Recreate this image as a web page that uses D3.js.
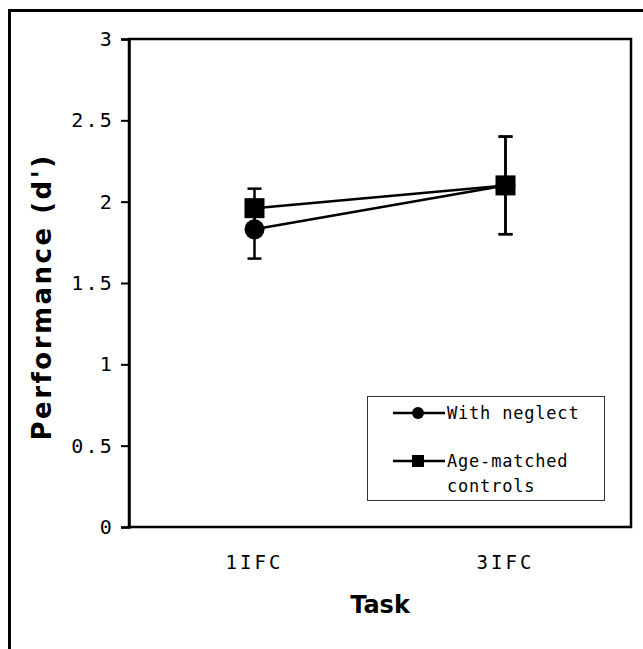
<!DOCTYPE html>
<html>
<head>
<meta charset="utf-8">
<script src="https://cdn.jsdelivr.net/npm/d3@7"></script>
<style>
  body { margin: 0; background: #fff; }
  svg { display: block; }
</style>
</head>
<body>
<div id="chart"></div>
<script>
const tasks = ["1IFC", "3IFC"];
const seriesNames = ["With neglect", "Age-matched controls"];
const neglectMean = [1.83, 2.10];
const neglectErr = [0.18, 0.30];
const controlMean = [1.96, 2.10];
const controlErr = [0.12, 0.30];
const yTicks = [0, 0.5, 1, 1.5, 2, 2.5, 3];

function drawChart() {
    const width = 643;
    const height = 649;

    const svg = d3.select("#chart")
        .append("svg")
        .attr("width", width)
        .attr("height", height);

    // outer frame (runs off the right and bottom of the picture)
    svg.append("rect")
        .attr("x", 9.5).attr("y", 10.5)
        .attr("width", 700).attr("height", 700)
        .attr("fill", "none")
        .attr("stroke", "black")
        .attr("stroke-width", 3);

    const left = 129, right = 631, top = 39, bottom = 527;

    const x = d3.scalePoint().domain(tasks).range([left, right]).padding(0.5);
    const y = d3.scaleLinear().domain([0, 3]).range([bottom, top]);

    // plot box
    svg.append("rect")
        .attr("x", left).attr("y", top)
        .attr("width", right - left).attr("height", bottom - top)
        .attr("fill", "none")
        .attr("stroke", "black")
        .attr("stroke-width", 2.5);

    const yAxis = svg.append("g")
        .attr("transform", `translate(${left},0)`)
        .call(d3.axisLeft(y).tickValues(yTicks).tickSize(8).tickPadding(7)
            .tickFormat(d => String(d)));
    yAxis.select(".domain").attr("stroke-width", 2.5);
    yAxis.selectAll(".tick line").attr("stroke-width", 2);
    yAxis.selectAll("text")
        .attr("font-family", "DejaVu Sans Mono")
        .attr("font-size", 20)
        .attr("letter-spacing", 2.2)
        .attr("fill", "black");

    svg.selectAll(".xlab")
        .data(tasks)
        .enter()
        .append("text")
        .attr("x", d => x(d))
        .attr("y", 569)
        .attr("text-anchor", "middle")
        .attr("font-family", "DejaVu Sans Mono")
        .attr("font-size", 19)
        .attr("letter-spacing", 3)
        .text(d => d);

    svg.append("text")
        .attr("x", (left + right) / 2)
        .attr("y", 613)
        .attr("text-anchor", "middle")
        .attr("font-family", "DejaVu Sans")
        .attr("font-weight", "bold")
        .attr("font-size", 24)
        .text("Task");

    svg.append("text")
        .attr("transform", "translate(51,297) rotate(-90)")
        .attr("text-anchor", "middle")
        .attr("font-family", "DejaVu Sans")
        .attr("font-weight", "bold")
        .attr("font-size", 26)
        .attr("letter-spacing", 2.5)
        .text("Performance (d')");

    const series = [
        { name: seriesNames[0], mean: neglectMean, err: neglectErr, shape: "circle" },
        { name: seriesNames[1], mean: controlMean, err: controlErr, shape: "square" }
    ];

    const line = d3.line()
        .x((d, i) => x(tasks[i]))
        .y(d => y(d));

    // lines
    series.forEach(s => {
        svg.append("path")
            .datum(s.mean)
            .attr("d", line)
            .attr("fill", "none")
            .attr("stroke", "black")
            .attr("stroke-width", 2.5);
    });

    // error bars
    series.forEach(s => {
        const g = svg.append("g").attr("stroke", "black").attr("stroke-width", 2.5);
        s.mean.forEach((m, i) => {
            const cx = x(tasks[i]);
            g.append("line")
                .attr("x1", cx).attr("x2", cx)
                .attr("y1", y(m - s.err[i])).attr("y2", y(m + s.err[i]));
            [m - s.err[i], m + s.err[i]].forEach(v => {
                g.append("line")
                    .attr("x1", cx - 7).attr("x2", cx + 7)
                    .attr("y1", y(v)).attr("y2", y(v));
            });
        });
    });

    // markers
    series.forEach(s => {
        s.mean.forEach((m, i) => {
            const cx = x(tasks[i]);
            if (s.shape === "circle") {
                svg.append("circle")
                    .attr("cx", cx).attr("cy", y(m)).attr("r", 10)
                    .attr("fill", "black");
            } else {
                svg.append("rect")
                    .attr("x", cx - 10).attr("y", y(m) - 10)
                    .attr("width", 20).attr("height", 20)
                    .attr("fill", "black");
            }
        });
    });

    // legend
    const lg = svg.append("g");
    lg.append("rect")
        .attr("x", 367.5).attr("y", 396.5)
        .attr("width", 237).attr("height", 104)
        .attr("fill", "white")
        .attr("stroke", "#333")
        .attr("stroke-width", 1);

    const legendRows = [
        { shape: "circle", y: 413, lines: ["With neglect"] },
        { shape: "square", y: 461, lines: ["Age-matched", "controls"] }
    ];
    legendRows.forEach(r => {
        lg.append("line")
            .attr("x1", 393).attr("x2", 445)
            .attr("y1", r.y).attr("y2", r.y)
            .attr("stroke", "black").attr("stroke-width", 2.5);
        if (r.shape === "circle") {
            lg.append("circle").attr("cx", 418).attr("cy", r.y).attr("r", 6).attr("fill", "black");
        } else {
            lg.append("rect").attr("x", 412).attr("y", r.y - 6)
                .attr("width", 12).attr("height", 12).attr("fill", "black");
        }
        r.lines.forEach((t, j) => {
            lg.append("text")
                .attr("x", 447)
                .attr("y", r.y + 6 + j * 25)
                .attr("font-family", "DejaVu Sans Mono")
                .attr("font-size", 17)
                .attr("letter-spacing", 0.8)
                .text(t);
        });
    });
}

drawChart();
</script>
</body>
</html>
